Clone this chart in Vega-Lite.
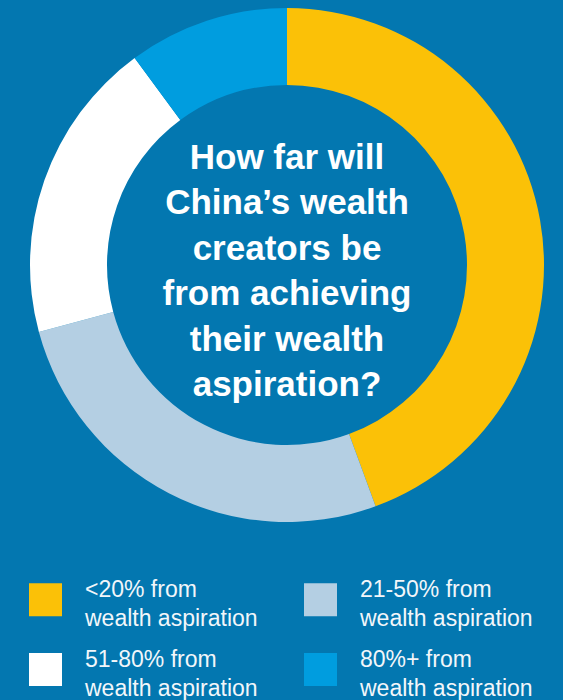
{
  "$schema": "https://vega.github.io/schema/vega-lite/v6.json",
  "width": 552,
  "height": 530,
  "autosize": {"type": "none"},
  "padding": {"left": 11, "top": 0, "right": 0, "bottom": 170},
  "background": "#0377B0",
  "config": {
    "view": {"stroke": null},
    "font": "Liberation Sans"
  },
  "layer": [
    {
      "data": {
        "values": [
          {"group": "<20% from wealth aspiration", "share": 44.4, "k": 1},
          {"group": "21-50% from wealth aspiration", "share": 26.4, "k": 2},
          {"group": "51-80% from wealth aspiration", "share": 19.1, "k": 3},
          {"group": "80%+ from wealth aspiration", "share": 10.1, "k": 4}
        ]
      },
      "mark": {"type": "arc", "outerRadius": 257, "innerRadius": 180, "strokeWidth": 0},
      "encoding": {
        "theta": {"field": "share", "type": "quantitative", "stack": true},
        "order": {"field": "k", "type": "quantitative"},
        "color": {
          "field": "group",
          "type": "nominal",
          "scale": {
            "domain": ["<20% from wealth aspiration", "51-80% from wealth aspiration", "21-50% from wealth aspiration", "80%+ from wealth aspiration"],
            "range": ["#FBC107", "#FFFFFF", "#B4CFE3", "#009DDF"]
          },
          "legend": {
            "title": null,
            "orient": "none",
            "legendX": 18,
            "legendY": 583,
            "columns": 2,
            "padding": 0,
            "symbolType": "square",
            "symbolSize": 1089,
            "symbolStrokeWidth": 0,
            "symbolOpacity": 1,
            "labelFont": "Liberation Sans",
            "labelFontSize": 23,
            "labelColor": "#F2F6FA",
            "labelLimit": 0,
            "labelOffset": 23,
            "columnPadding": 46,
            "rowPadding": 17,
            "labelBaseline": "alphabetic",
            "labelExpr": "[replace(datum.label, ' wealth aspiration', ''), 'wealth aspiration']",
            "encode": {
              "labels": {"update": {"lineHeight": {"value": 29}, "dy": {"value": -3}}}
            }
          }
        }
      }
    },
    {
      "data": {
        "values": [
          {"q": ["How far will", "China’s wealth", "creators be", "from achieving", "their wealth", "aspiration?"]}
        ]
      },
      "mark": {
        "type": "text",
        "font": "Liberation Sans",
        "fontWeight": "bold",
        "fontSize": 35,
        "lineHeight": 45.4,
        "align": "center",
        "baseline": "alphabetic",
        "dy": -96,
        "color": "#FFFFFF"
      },
      "encoding": {
        "text": {"field": "q", "type": "nominal"}
      }
    }
  ]
}
